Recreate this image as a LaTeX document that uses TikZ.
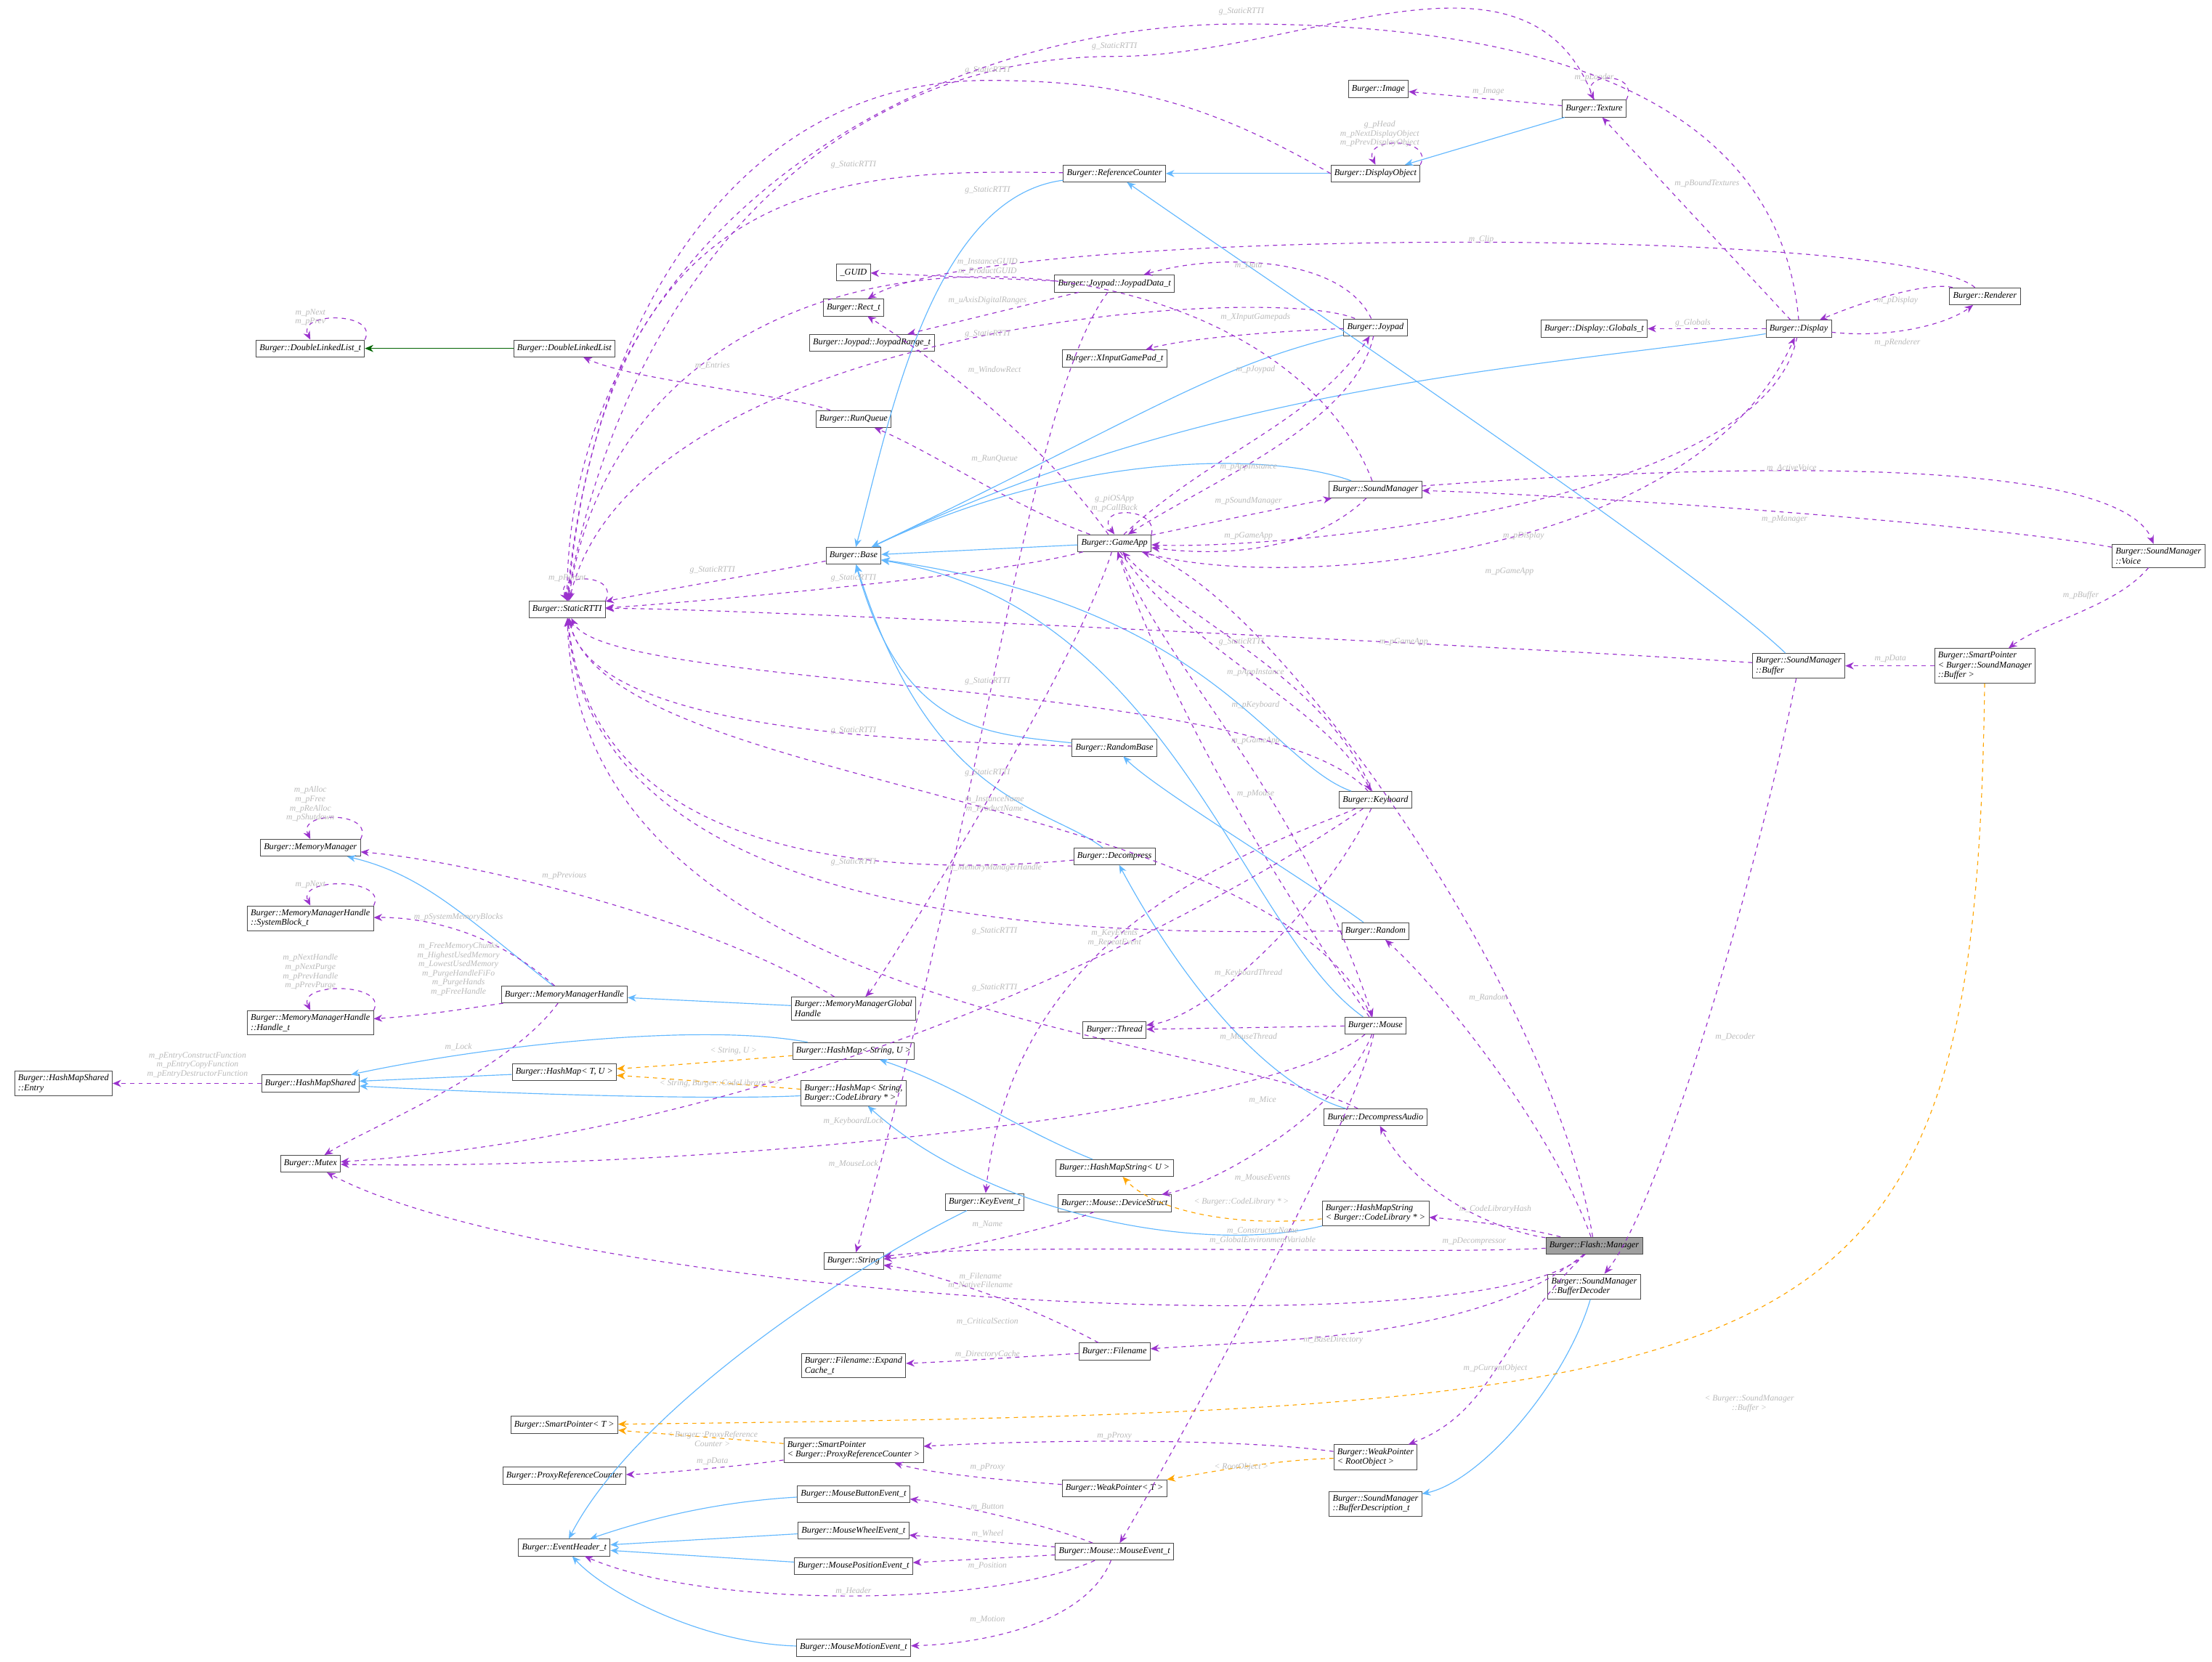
\documentclass[tikz,border=0pt]{standalone}
\usepackage{fontspec}
\setmainfont{Liberation Serif}
\usetikzlibrary{arrows.meta}
\definecolor{pur}{HTML}{9A32CD}
\definecolor{blu}{HTML}{63B8FF}
\definecolor{org}{HTML}{FFA500}
\definecolor{grn}{HTML}{006400}
\tikzset{
 cls/.style={draw=gray!60!black,fill=white,font=\fontsize{6.3}{7}\selectfont\itshape,inner sep=2.5pt,minimum height=12pt,align=left},
 pe/.style={draw=pur,dashed,semithick,-{Stealth[length=6pt,width=5pt]}},
 be/.style={draw=blu,semithick,-{Stealth[length=6pt,width=5pt]}},
 ge/.style={draw=grn,semithick,-{Stealth[length=6pt,width=5pt]}},
 oe/.style={draw=org,dashed,semithick,-{Stealth[length=6pt,width=5pt]}},
 lbl/.style={text=gray!55,font=\fontsize{6}{6.5}\selectfont\itshape,align=center,inner sep=0pt}
}
\begin{document}
\begin{tikzpicture}[x=1pt,y=-1pt]
\useasboundingbox (0,0) rectangle (1568,1178);
% nodes
\node[cls] (Image) at (977,63) {Burger::Image};
\node[cls] (Texture) at (1130,77) {Burger::Texture};
\node[cls] (DispObj) at (975,123) {Burger::DisplayObject};
\node[cls] (RefCnt) at (790,123) {Burger::ReferenceCounter};
\node[cls] (GUID) at (605,193) {\_GUID};
\node[cls] (JData) at (790,201) {Burger::Joypad::JoypadData\_t};
\node[cls] (Rect) at (605,218) {Burger::Rect\_t};
\node[cls] (JRange) at (618,243) {Burger::Joypad::JoypadRange\_t};
\node[cls] (Joypad) at (975,232) {Burger::Joypad};
\node[cls] (XInput) at (790,254) {Burger::XInputGamePad\_t};
\node[cls] (Renderer) at (1407,210) {Burger::Renderer};
\node[cls] (DGlob) at (1130,233) {Burger::Display::Globals\_t};
\node[cls] (Display) at (1275,233) {Burger::Display};
\node[cls] (DLLt) at (220,247) {Burger::DoubleLinkedList\_t};
\node[cls] (DLL) at (400,247) {Burger::DoubleLinkedList};
\node[cls] (RunQ) at (605,297) {Burger::RunQueue};
\node[cls] (SndMgr) at (975,347) {Burger::SoundManager};
\node[cls] (GameApp) at (790,385) {Burger::GameApp};
\node[cls] (Base) at (605,394) {Burger::Base};
\node[cls] (RTTI) at (402,432) {Burger::StaticRTTI};
\node[cls] (Voice) at (1530,394) {Burger::SoundManager\\::Voice};
\node[cls] (Buffer) at (1275,472) {Burger::SoundManager\\::Buffer};
\node[cls] (SPBuf) at (1407,472) {Burger::SmartPointer\\< Burger::SoundManager\\::Buffer >};
\node[cls] (RandB) at (790,530) {Burger::RandomBase};
\node[cls] (Keyb) at (975,567) {Burger::Keyboard};
\node[cls] (MemMgr) at (220,601) {Burger::MemoryManager};
\node[cls] (Decomp) at (790,607) {Burger::Decompress};
\node[cls] (SysBlk) at (220,651) {Burger::MemoryManagerHandle\\::SystemBlock\_t};
\node[cls] (Random) at (975,660) {Burger::Random};
\node[cls] (Handt) at (220,725) {Burger::MemoryManagerHandle\\::Handle\_t};
\node[cls] (MMH) at (400,705) {Burger::MemoryManagerHandle};
\node[cls] (MMGH) at (605,715) {Burger::MemoryManagerGlobal\\Handle};
\node[cls] (Thread) at (790,730) {Burger::Thread};
\node[cls] (Mouse) at (975,727) {Burger::Mouse};
\node[cls] (HMSU) at (605,745) {Burger::HashMap< String, U >};
\node[cls] (HMTU) at (400,760) {Burger::HashMap< T, U >};
\node[cls] (Entry) at (45,768) {Burger::HashMapShared\\::Entry};
\node[cls] (HMS) at (220,768) {Burger::HashMapShared};
\node[cls] (HMSC) at (605,775) {Burger::HashMap< String,\\ Burger::CodeLibrary * >};
\node[cls] (DAud) at (975,792) {Burger::DecompressAudio};
\node[cls] (Mutex) at (220,825) {Burger::Mutex};
\node[cls] (HMStrU) at (790,828) {Burger::HashMapString< U >};
\node[cls] (KeyEv) at (698,852) {Burger::KeyEvent\_t};
\node[cls] (DevS) at (790,853) {Burger::Mouse::DeviceStruct};
\node[cls] (HMStrC) at (975,860) {Burger::HashMapString\\< Burger::CodeLibrary * >};
\node[cls,fill=gray!75] (Flash) at (1130,883) {Burger::Flash::Manager};
\node[cls] (String) at (605,894) {Burger::String};
\node[cls] (BufDec) at (1130,912) {Burger::SoundManager\\::BufferDecoder};
\node[cls] (ExpC) at (605,968) {Burger::Filename::Expand\\Cache\_t};
\node[cls] (Filename) at (790,958) {Burger::Filename};
\node[cls] (SPT) at (400,1010) {Burger::SmartPointer< T >};
\node[cls] (SPP) at (605,1028) {Burger::SmartPointer\\< Burger::ProxyReferenceCounter >};
\node[cls] (PRC) at (400,1046) {Burger::ProxyReferenceCounter};
\node[cls] (WPR) at (975,1033) {Burger::WeakPointer\\< RootObject >};
\node[cls] (WPT) at (790,1055) {Burger::WeakPointer< T >};
\node[cls] (BDesc) at (975,1066) {Burger::SoundManager\\::BufferDescription\_t};
\node[cls] (MBtn) at (605,1059) {Burger::MouseButtonEvent\_t};
\node[cls] (MWhl) at (605,1085) {Burger::MouseWheelEvent\_t};
\node[cls] (EvH) at (400,1097) {Burger::EventHeader\_t};
\node[cls] (MPos) at (605,1110) {Burger::MousePositionEvent\_t};
\node[cls] (MEv) at (790,1100) {Burger::Mouse::MouseEvent\_t};
\node[cls] (MMot) at (605,1168) {Burger::MouseMotionEvent\_t};

% inheritance (blue)
\draw[be] (Texture) -- (DispObj);
\draw[be] (DispObj) -- (RefCnt);
\draw[be] (RefCnt) .. controls (660,140) and (630,300) .. (Base);
\draw[be] (Joypad) .. controls (860,260) and (820,290) .. (Base);
\draw[be] (Display) .. controls (1100,260) and (860,270) .. (Base);
\draw[be] (SndMgr) .. controls (900,320) and (760,320) .. (Base);
\draw[be] (GameApp) -- (Base);
\draw[be] (RandB) .. controls (700,520) and (640,520) .. (Base);
\draw[be] (Decomp) .. controls (740,570) and (660,570) .. (Base);
\draw[be] (Keyb) .. controls (900,540) and (860,430) .. (Base);
\draw[be] (Mouse) .. controls (880,660) and (830,430) .. (Base);
\draw[be] (Random) .. controls (920,620) and (820,560) .. (RandB);
\draw[be] (DAud) .. controls (900,770) and (840,700) .. (Decomp);
\draw[be] (Buffer) .. controls (1200,400) and (900,200) .. (RefCnt);
\draw[be] (BufDec) .. controls (1110,980) and (1050,1050) .. (BDesc);
\draw[ge] (DLL) -- (DLLt);
\draw[be] (MMH) .. controls (330,650) and (300,620) .. (MemMgr);
\draw[be] (MMGH) -- (MMH);
\draw[be] (HMTU) -- (HMS);
\draw[be] (HMSU) .. controls (500,725) and (350,740) .. (HMS);
\draw[be] (HMSC) .. controls (500,780) and (350,775) .. (HMS);
\draw[be] (HMStrU) .. controls (720,800) and (680,770) .. (HMSU);
\draw[be] (HMStrC) .. controls (850,890) and (700,860) .. (HMSC);
\draw[be] (KeyEv) .. controls (600,900) and (450,1000) .. (EvH);
\draw[be] (MBtn) .. controls (500,1065) and (450,1080) .. (EvH);
\draw[be] (MWhl) -- (EvH);
\draw[be] (MPos) -- (EvH);
\draw[be] (MMot) .. controls (500,1165) and (430,1130) .. (EvH);

% templates (orange)
\draw[oe] (HMSU) .. controls (540,750) and (480,755) .. (HMTU);
\draw[oe] (HMSC) .. controls (540,770) and (480,765) .. (HMTU);
\draw[oe] (HMStrC) .. controls (880,870) and (820,860) .. (HMStrU);
\draw[oe] (SPBuf) .. controls (1400,980) and (1300,1000) .. (SPT);
\draw[oe] (SPP) .. controls (520,1020) and (450,1015) .. (SPT);
\draw[oe] (WPR) .. controls (900,1035) and (850,1045) .. (WPT);
\node[lbl] (o1) at (520,745) {< String, U >};
\node[lbl] (o2) at (510,768) {< String, Burger::CodeLibrary * >};
\node[lbl] (o3) at (880,852) {< Burger::CodeLibrary * >};
\node[lbl] (o4) at (1240,995) {< Burger::SoundManager\\::Buffer >};
\node[lbl] (o5) at (505,1020) {< Burger::ProxyReference\\Counter >};
\node[lbl] (o6) at (880,1040) {< RootObject >};

% usage (purple)
\coordinate (t1) at (880,17);
\coordinate (t2) at (790,40);
\coordinate (t3) at (700,57);
\draw[pe] (Texture) -- (Image); \node[lbl] at (1055,65) {m\_Image};
\draw[pe] (Texture.north east) .. controls +(10,-20) and +(-10,-20) .. (Texture.north); \node[lbl] at (1130,55) {m\_pLoader};
\draw[pe] (DispObj.north east) .. controls +(10,-20) and +(-10,-20) .. (DispObj.north); \node[lbl] at (978,95) {g\_pHead\\m\_pNextDisplayObject\\m\_pPrevDisplayObject};
\draw[pe] (Texture.north) to[out=110,in=0] (t2) to[out=180,in=80] (RTTI.north); \node[lbl] at (790,33) {g\_StaticRTTI};
\draw[pe] (DispObj.west) to[out=150,in=0] (t3) to[out=180,in=85] (RTTI.north); \node[lbl] at (700,50) {g\_StaticRTTI};
\draw[pe] (Display.north) to[out=95,in=0] (t1) to[out=180,in=90] (RTTI.north); \node[lbl] at (880,8) {g\_StaticRTTI};
\draw[pe] (RefCnt) .. controls (600,120) and (430,120) .. (RTTI); \node[lbl] at (605,117) {g\_StaticRTTI};
\draw[pe] (SndMgr) .. controls (900,150) and (450,120) .. (RTTI); \node[lbl] at (700,135) {g\_StaticRTTI};
\draw[pe] (Display) -- (Texture); \node[lbl] at (1210,130) {m\_pBoundTextures};
\draw[pe] (Display) -- (DGlob); \node[lbl] at (1200,229) {g\_Globals};
\draw[pe] (Display) .. controls (1340,240) and (1380,230) .. (Renderer); \node[lbl] at (1345,243) {m\_pRenderer};
\draw[pe] (Renderer) .. controls (1370,200) and (1330,210) .. (Display); \node[lbl] at (1345,213) {m\_pDisplay};
\draw[pe] (Renderer) .. controls (1350,160) and (700,160) .. (Rect); \node[lbl] at (1050,170) {m\_Clip};
\draw[pe] (JData) -- (GUID); \node[lbl] at (700,189) {m\_InstanceGUID\\m\_ProductGUID};
\draw[pe] (JData) -- (JRange); \node[lbl] at (700,213) {m\_uAxisDigitalRanges};
\draw[pe] (Joypad) .. controls (950,180) and (860,180) .. (JData); \node[lbl] at (885,188) {m\_Data};
\draw[pe] (Joypad) .. controls (900,235) and (840,240) .. (XInput); \node[lbl] at (890,225) {m\_XInputGamepads};
\draw[pe] (Joypad) .. controls (900,200) and (450,230) .. (RTTI); \node[lbl] at (700,237) {g\_StaticRTTI};
\draw[pe] (JData) .. controls (730,280) and (700,560) .. (String); \node[lbl] at (705,570) {m\_InstanceName\\m\_ProductName};
\draw[pe] (GameApp) .. controls (730,300) and (640,240) .. (Rect); \node[lbl] at (705,262) {m\_WindowRect};
\draw[pe] (GameApp) .. controls (720,360) and (660,320) .. (RunQ); \node[lbl] at (705,325) {m\_RunQueue};
\draw[pe] (RunQ) .. controls (560,280) and (450,270) .. (DLL); \node[lbl] at (505,259) {m\_Entries};
\draw[pe] (GameApp.north east) .. controls +(5,-20) and +(-15,-20) .. (GameApp.north); \node[lbl] at (790,357) {g\_piOSApp\\m\_pCallBack};
\draw[pe] (GameApp) .. controls (860,320) and (930,300) .. (Joypad); \node[lbl] at (890,262) {m\_pJoypad};
\draw[pe] (Joypad) .. controls (960,300) and (860,340) .. (GameApp); \node[lbl] at (885,331) {m\_pAppInstance};
\draw[pe] (GameApp) .. controls (860,370) and (910,360) .. (SndMgr); \node[lbl] at (885,355) {m\_pSoundManager};
\draw[pe] (SndMgr) .. controls (930,390) and (870,395) .. (GameApp); \node[lbl] at (885,380) {m\_pGameApp};
\draw[pe] (GameApp) .. controls (900,420) and (1200,400) .. (Display); \node[lbl] at (1080,380) {m\_pDisplay};
\draw[pe] (Display) .. controls (1250,360) and (900,390) .. (GameApp); \node[lbl] at (1070,405) {m\_pGameApp};
\draw[pe] (GameApp) .. controls (840,460) and (940,500) .. (Keyb); \node[lbl] at (890,500) {m\_pKeyboard};
\draw[pe] (Keyb) .. controls (940,480) and (840,440) .. (GameApp); \node[lbl] at (890,477) {m\_pAppInstance};
\draw[pe] (GameApp) .. controls (830,480) and (920,560) .. (Mouse); \node[lbl] at (890,563) {m\_pMouse};
\draw[pe] (Mouse) .. controls (900,620) and (830,500) .. (GameApp); \node[lbl] at (890,525) {m\_pGameApp};
\draw[pe] (GameApp) .. controls (700,410) and (450,430) .. (RTTI); \node[lbl] at (605,410) {g\_StaticRTTI};
\draw[pe] (GameApp) .. controls (760,480) and (620,700) .. (MMGH); \node[lbl] at (705,615) {m\_MemoryManagerHandle};
\draw[pe] (SndMgr) .. controls (1200,330) and (1500,320) .. (Voice); \node[lbl] at (1270,332) {m\_ActiveVoice};
\draw[pe] (Voice) .. controls (1400,370) and (1100,350) .. (SndMgr); \node[lbl] at (1265,368) {m\_pManager};
\draw[pe] (Voice) .. controls (1500,430) and (1450,440) .. (SPBuf); \node[lbl] at (1475,422) {m\_pBuffer};
\draw[pe] (SPBuf) -- (Buffer); \node[lbl] at (1340,467) {m\_pData};
\draw[pe] (Buffer) .. controls (1100,460) and (500,430) .. (RTTI); \node[lbl] at (880,455) {g\_StaticRTTI};
\draw[pe] (Buffer) .. controls (1250,600) and (1180,850) .. (BufDec); \node[lbl] at (1230,735) {m\_Decoder};
\draw[pe] (Base) .. controls (520,410) and (460,420) .. (RTTI); \node[lbl] at (505,404) {g\_StaticRTTI};
\draw[pe] (RTTI.north east) .. controls +(10,-20) and +(-10,-20) .. (RTTI.north); \node[lbl] at (402,410) {m\_pParent};
\draw[pe] (RandB) .. controls (650,525) and (420,520) .. (RTTI); \node[lbl] at (605,518) {g\_StaticRTTI};
\draw[pe] (Keyb) .. controls (900,480) and (430,490) .. (RTTI); \node[lbl] at (700,483) {g\_StaticRTTI};
\draw[pe] (Mouse) .. controls (900,560) and (430,560) .. (RTTI); \node[lbl] at (700,548) {g\_StaticRTTI};
\draw[pe] (Decomp) .. controls (650,620) and (420,620) .. (RTTI); \node[lbl] at (605,611) {g\_StaticRTTI};
\draw[pe] (Random) .. controls (850,660) and (420,680) .. (RTTI); \node[lbl] at (705,660) {g\_StaticRTTI};
\draw[pe] (DAud) .. controls (850,730) and (410,720) .. (RTTI); \node[lbl] at (705,700) {g\_StaticRTTI};
\draw[pe] (Keyb) .. controls (940,640) and (860,720) .. (Thread); \node[lbl] at (885,690) {m\_KeyboardThread};
\draw[pe] (Keyb) .. controls (900,600) and (720,650) .. (KeyEv); \node[lbl] at (790,665) {m\_KeyEvents\\m\_RepeatEvent};
\draw[pe] (Keyb) .. controls (900,620) and (600,800) .. (Mutex); \node[lbl] at (605,795) {m\_KeyboardLock};
\draw[pe] (Mouse) -- (Thread); \node[lbl] at (885,735) {m\_MouseThread};
\draw[pe] (Mouse) .. controls (900,790) and (500,830) .. (Mutex); \node[lbl] at (605,825) {m\_MouseLock};
\draw[pe] (Mouse) .. controls (950,790) and (860,840) .. (DevS); \node[lbl] at (895,780) {m\_Mice};
\draw[pe] (Mouse) .. controls (960,800) and (820,1050) .. (MEv); \node[lbl] at (895,835) {m\_MouseEvents};
\draw[pe] (DevS) .. controls (750,870) and (660,890) .. (String); \node[lbl] at (700,868) {m\_Name};
\draw[pe] (Flash) .. controls (1100,700) and (900,420) .. (GameApp); \node[lbl] at (995,455) {m\_pGameApp};
\draw[pe] (Flash) .. controls (1100,800) and (1020,700) .. (Random); \node[lbl] at (1055,707) {m\_Random};
\draw[pe] (Flash) .. controls (1080,870) and (1040,865) .. (HMStrC); \node[lbl] at (1060,857) {m\_CodeLibraryHash};
\draw[pe] (Flash) .. controls (1050,870) and (1000,840) .. (DAud); \node[lbl] at (1045,880) {m\_pDecompressor};
\draw[pe] (Flash) .. controls (1000,890) and (700,880) .. (String); \node[lbl] at (895,876) {m\_ConstructorName\\m\_GlobalEnvironmentVariable};
\draw[pe] (Flash) .. controls (1050,960) and (400,920) .. (Mutex); \node[lbl] at (700,937) {m\_CriticalSection};
\draw[pe] (Flash) .. controls (1050,950) and (900,950) .. (Filename); \node[lbl] at (945,950) {m\_BaseDirectory};
\draw[pe] (Flash) .. controls (1060,950) and (1060,1000) .. (WPR); \node[lbl] at (1060,970) {m\_pCurrentObject};
\draw[pe] (Filename) .. controls (720,920) and (650,900) .. (String); \node[lbl] at (695,908) {m\_Filename\\m\_NativeFilename};
\draw[pe] (Filename) .. controls (720,962) and (680,965) .. (ExpC); \node[lbl] at (700,960) {m\_DirectoryCache};
\draw[pe] (WPR) .. controls (880,1020) and (750,1020) .. (SPP); \node[lbl] at (790,1018) {m\_pProxy};
\draw[pe] (WPT) .. controls (720,1050) and (660,1045) .. (SPP); \node[lbl] at (700,1040) {m\_pProxy};
\draw[pe] (SPP) .. controls (520,1040) and (460,1045) .. (PRC); \node[lbl] at (505,1036) {m\_pData};
\draw[pe] (MEv) .. controls (740,1080) and (670,1065) .. (MBtn); \node[lbl] at (700,1068) {m\_Button};
\draw[pe] (MEv) -- (MWhl); \node[lbl] at (700,1087) {m\_Wheel};
\draw[pe] (MEv) -- (MPos); \node[lbl] at (700,1110) {m\_Position};
\draw[pe] (MEv) .. controls (700,1140) and (500,1140) .. (EvH); \node[lbl] at (605,1128) {m\_Header};
\draw[pe] (MEv) .. controls (770,1150) and (700,1165) .. (MMot); \node[lbl] at (700,1148) {m\_Motion};
\draw[pe] (MemMgr.north east) .. controls +(10,-20) and +(-10,-20) .. (MemMgr.north); \node[lbl] at (220,570) {m\_pAlloc\\m\_pFree\\m\_pReAlloc\\m\_pShutdown};
\draw[pe] (SysBlk.north east) .. controls +(10,-20) and +(-10,-20) .. (SysBlk.north); \node[lbl] at (220,627) {m\_pNext};
\draw[pe] (Handt.north east) .. controls +(10,-20) and +(-10,-20) .. (Handt.north); \node[lbl] at (220,689) {m\_pNextHandle\\m\_pNextPurge\\m\_pPrevHandle\\m\_pPrevPurge};
\draw[pe] (MMH) .. controls (350,660) and (300,650) .. (SysBlk); \node[lbl] at (325,650) {m\_pSystemMemoryBlocks};
\draw[pe] (MMH) .. controls (330,715) and (300,720) .. (Handt); \node[lbl] at (325,687) {m\_FreeMemoryChunks\\m\_HighestUsedMemory\\m\_LowestUsedMemory\\m\_PurgeHandleFiFo\\m\_PurgeHands\\m\_pFreeHandle};
\draw[pe] (MMH) .. controls (360,760) and (260,800) .. (Mutex); \node[lbl] at (325,742) {m\_Lock};
\draw[pe] (MMGH) .. controls (500,650) and (330,610) .. (MemMgr); \node[lbl] at (400,621) {m\_pPrevious};
\draw[pe] (HMS) -- (Entry); \node[lbl] at (140,755) {m\_pEntryConstructFunction\\m\_pEntryCopyFunction\\m\_pEntryDestructorFunction};
\draw[pe] (DLLt.north east) .. controls +(10,-20) and +(-10,-20) .. (DLLt.north); \node[lbl] at (220,225) {m\_pNext\\m\_pPrev};
\end{tikzpicture}
\end{document}
